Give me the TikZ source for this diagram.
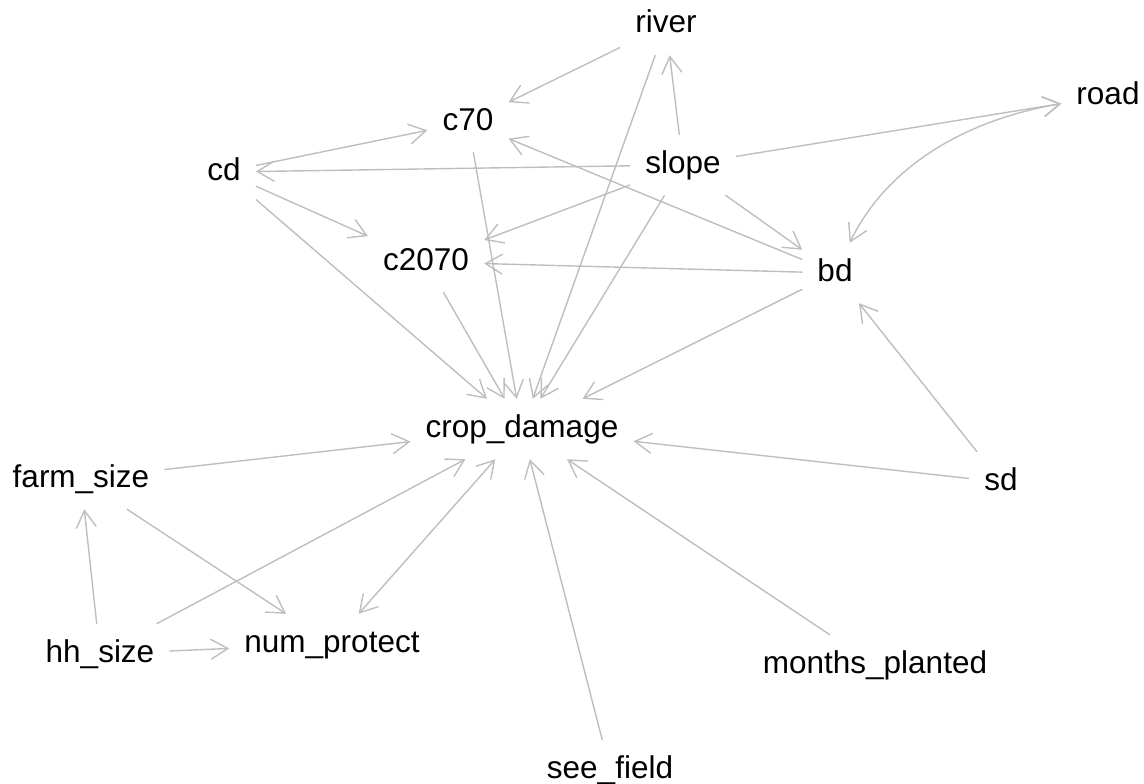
\documentclass[tikz,border=0pt]{standalone}
\usepackage{fontspec}
\setmainfont{Liberation Sans}
\usetikzlibrary{arrows.meta}
\definecolor{edgegray}{RGB}{190,190,190}
\tikzset{
  var/.style={inner sep=15pt, text height=23pt, text depth=7pt, anchor=base,
    font=\fontsize{31.5}{36}\selectfont},
  edge/.style={draw=edgegray, line width=1.4pt, -{Straight Barb[length=17pt,width=20pt]}},
  biedge/.style={edge, {Straight Barb[length=17pt,width=20pt]}-{Straight Barb[length=17pt,width=20pt]}}
}

\begin{document}
\begin{tikzpicture}[x=1pt,y=-1pt]
\useasboundingbox (0,0) rectangle (1144,784);
% variables
\node[var] (river) at (666,33) {river};
\node[var] (road) at (1108,104) {road};
\node[var] (c70) at (468,130) {c70};
\node[var] (cd) at (224,180) {cd};
\node[var] (slope) at (683,173) {slope};
\node[var] (c2070) at (426,270) {c2070};
\node[var] (bd) at (835,281) {bd};
\node[var] (cropdamage) at (522,437) {crop\_damage};
\node[var] (farmsize) at (81,487) {farm\_size};
\node[var] (sd) at (1001,490) {sd};
\node[var] (hhsize) at (100,662) {hh\_size};
\node[var] (numprotect) at (332,652) {num\_protect};
\node[var] (monthsplanted) at (875,673) {months\_planted};
\node[var] (seefield) at (610,778) {see\_field};

\foreach \s in {river,slope,cd,bd,c70,c2070,sd,farmsize,hhsize,seefield,monthsplanted} % edit here for the causes of crop_damage
\draw[edge] (\s) -- (cropdamage);
\foreach \t in {river,road,cd,c2070,bd} % edit here for the arrows out of slope
\draw[edge] (slope) -- (\t);
\draw[edge] (river) -- (c70);
\draw[edge] (cd) -- (c70);
\draw[edge] (cd) -- (c2070);
\draw[edge] (bd) -- (c70);
\draw[edge] (bd) -- (c2070);
\draw[edge] (sd) -- (bd);
\draw[edge] (farmsize) -- (numprotect);
\draw[edge] (hhsize) -- (farmsize);
\draw[edge] (hhsize) -- (numprotect);
\draw[biedge] (numprotect) -- (cropdamage);
\draw[biedge] (bd) .. controls (890,160) and (975,118) .. (road);

\end{tikzpicture}
\end{document}
